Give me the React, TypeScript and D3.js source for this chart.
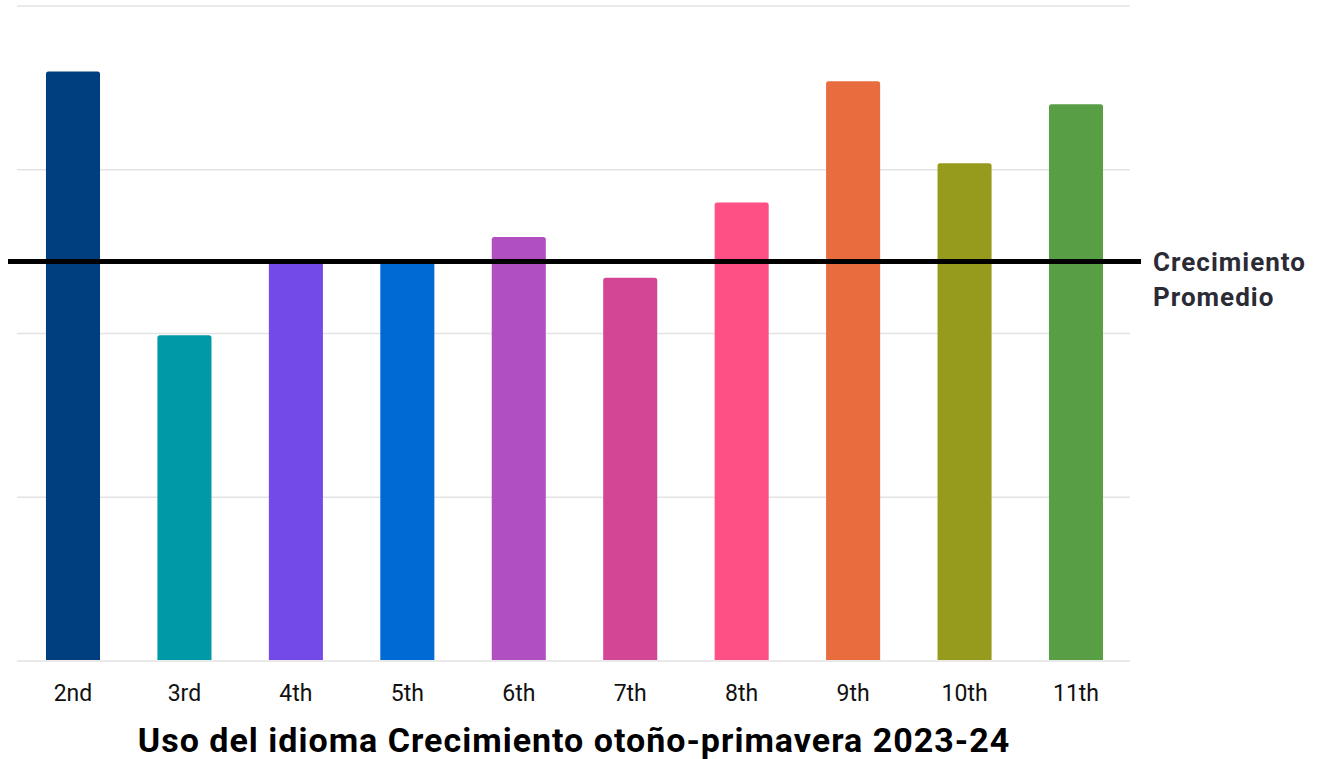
import React from 'react';
import * as d3 from 'd3';

// grades and growth values (arbitrary units)
const grades = ['2nd', '3rd', '4th', '5th', '6th', '7th', '8th', '9th', '10th', '11th'];
const growth = [18.0, 9.95, 12.25, 12.25, 12.95, 11.7, 14.0, 17.7, 15.2, 17.0];
const barColors = ['#003f7f', '#0099a8', '#7349e8', '#006ad4', '#b04fc0', '#d34695', '#ff5086', '#e86c3d', '#979b1d', '#579e45'];
const yTicks = [0, 5, 10, 15, 20];
const average = 12.2;

const W = 1324;
const H = 759;

const App = () => {
  const margin = {top: 6, right: 192, bottom: 98, left: 17};
  const x = d3
    .scaleBand<string>()
    .domain(grades)
    .range([margin.left, W - margin.right])
    .paddingInner(0.515)
    .paddingOuter(0.26);
  const y = d3
    .scaleLinear()
    .domain([0, 20])
    .range([H - margin.bottom, margin.top]);

  const r = 2.5;
  const barPath = (x0: number, y0: number, w: number, h: number) =>
    `M${x0},${y0 + h}V${y0 + r}Q${x0},${y0} ${x0 + r},${y0}H${x0 + w - r}Q${x0 + w},${y0} ${x0 + w},${y0 + r}V${y0 + h}Z`;

  const font = 'Roboto, "Noto Sans", sans-serif';

  return (
    <svg width={W} height={H} style={{position: 'absolute', left: 0, top: 0}}>
      <rect width={W} height={H} fill="#fff" />
      {/* grid */}
      {yTicks.map(t => (
        <line
          key={t}
          x1={margin.left}
          x2={1130}
          y1={y(t)}
          y2={y(t)}
          stroke="#e3e3e3"
          strokeWidth={1.5}
        />
      ))}
      {/* bars */}
      {grades.map((g, i) => (
        <path
          key={g}
          d={barPath(x(g)!, y(growth[i]), x.bandwidth(), y(0) - y(growth[i]) - 1)}
          fill={barColors[i]}
        />
      ))}
      {/* average line */}
      <line x1={8} x2={1141} y1={y(average)} y2={y(average)} stroke="#000" strokeWidth={5} />
      <text fontFamily={font} fontWeight={700} fontSize={26} letterSpacing={1} fill="#2b2b36">
        <tspan x={1153} y={271}>Crecimiento</tspan>
        <tspan x={1153} y={306}>Promedio</tspan>
      </text>
      {/* x labels */}
      {grades.map(g => (
        <text
          key={g}
          x={x(g)! + x.bandwidth() / 2}
          y={701}
          textAnchor="middle"
          fontFamily={font}
          fontSize={23}
          fill="#111"
        >
          {g}
        </text>
      ))}
      <text
        x={574}
        y={752}
        textAnchor="middle"
        fontFamily={font}
        fontWeight={700}
        fontSize={34}
        letterSpacing={1}
        fill="#000"
      >
        Uso del idioma Crecimiento otoño-primavera 2023-24
      </text>
    </svg>
  );
};

export default App;
